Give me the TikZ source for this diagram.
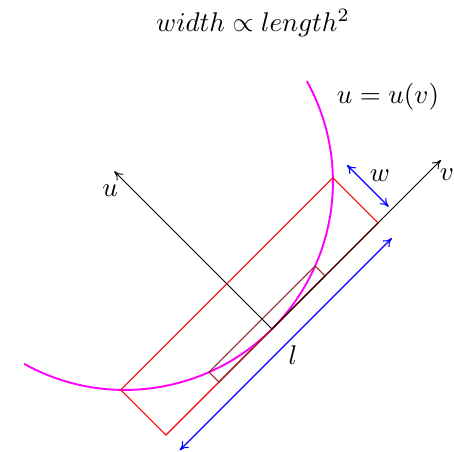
\documentclass[tikz,border=0pt]{standalone}
\usetikzlibrary{calc,arrows.meta}
\definecolor{mag}{RGB}{255,0,255}
\definecolor{brn}{RGB}{140,40,40}
\definecolor{rd}{RGB}{255,0,0}
\definecolor{bl}{RGB}{0,0,255}
\begin{document}
\begin{tikzpicture}[x=0.37pt,y=0.37pt,
  tip/.tip={Computer Modern Rightarrow[length=3.2pt,width=3.4pt]},
  curve/.style={mag,line width=0.7pt},
  bigrect/.style={rd,line width=0.4pt},
  smallrect/.style={brn,line width=0.4pt},
  axis/.style={black,line width=0.35pt,-tip},
  dim/.style={bl,line width=0.4pt,tip-tip},
  lbl/.style={inner sep=0pt}]
\useasboundingbox (0,0) rectangle (454,-452);
\begin{scope}[shift={(272,-329)},rotate=45]
  % (v,u) frame: x along v, y along u
  \coordinate (O) at (0,0);
  \coordinate (C) at (0,208);
  \draw[curve] (C) ++(196:208) arc[start angle=196,end angle=344,radius=208];
  \draw[bigrect] (-150,0) rectangle (150,63.9);
  \draw[smallrect] (-75,0) rectangle (75,14);
  \coordinate (uend) at (0,223);
  \coordinate (vend) at (239,0);
  \draw[axis] (O) -- (uend);
  \draw[axis] (O) -- (vend);
  \coordinate (w1) at (169,4);
  \coordinate (w2) at (169,63);
  \draw[dim] (w1) -- (w2);
  \coordinate (l1) at (-151,-20.5);
  \coordinate (l2) at (149,-20.5);
  \draw[dim] (l1) -- (l2);
\end{scope}
\node[lbl] (ulab) at (110,-191) {$u$};
\node[lbl] (vlab) at (447,-175) {$v$};
\node[lbl] (wlab) at (380,-176) {$w$};
\node[lbl] (llab) at (293,-355) {$l$};
\node[lbl] (curvelab) at (388,-97) {$u=u(v)$};
\node[lbl] (title) at (253,-23) {$width\propto length^2$};
\end{tikzpicture}
\end{document}
